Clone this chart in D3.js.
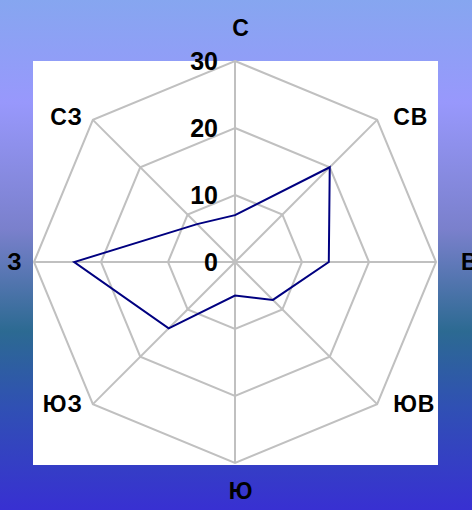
<!DOCTYPE html>
<html>
<head>
<meta charset="utf-8">
<script src="https://cdn.jsdelivr.net/npm/d3@7"></script>
<style>
html,body{margin:0;padding:0;}
body{width:472px;height:510px;overflow:hidden;}
</style>
</head>
<body>
<svg id="chart" width="472" height="510"></svg>
<script>
const categories = ["С", "СВ", "В", "ЮВ", "Ю", "ЮЗ", "З", "СЗ"];
const values = [7, 20, 14, 8, 5, 14, 24, 8];
const ticks = [0, 10, 20, 30];
const maxValue = 30;

const svg = d3.select("#chart");
const W = 472, H = 510;
const cx = 235, cy = 262, R = 201;

const defs = svg.append("defs");
const grad = defs.append("linearGradient").attr("id", "bg").attr("x1", 0).attr("y1", 0).attr("x2", 0).attr("y2", 1);
[[0, "#86a6f0"], [0.2, "#9898fc"], [0.45, "#7a80cc"], [0.65, "#2c6a92"], [0.8, "#3050b4"], [1, "#3830d2"]]
  .forEach(([o, c]) => grad.append("stop").attr("offset", o).attr("stop-color", c));

svg.append("rect").attr("width", W).attr("height", H).attr("fill", "url(#bg)");
svg.append("rect").attr("x", 33).attr("y", 61).attr("width", 405).attr("height", 404).attr("fill", "#ffffff");

const r = d3.scaleLinear().domain([0, maxValue]).range([0, R]);
const angle = d3.scalePoint().domain(categories.concat(["_"])).range([0, 2 * Math.PI]);
const pt = (cat, v) => {
  const a = angle(cat);
  return [cx + r(v) * Math.sin(a), cy - r(v) * Math.cos(a)];
};

const g = svg.append("g");
ticks.filter(t => t > 0).forEach(t => {
  g.append("polygon")
    .attr("points", categories.map(c => pt(c, t).join(",")).join(" "))
    .attr("fill", "none").attr("stroke", "#c0c0c0").attr("stroke-width", 2);
});
categories.forEach(c => {
  const [x, y] = pt(c, maxValue);
  g.append("line").attr("x1", cx).attr("y1", cy).attr("x2", x).attr("y2", y)
    .attr("stroke", "#c0c0c0").attr("stroke-width", 2);
});

const line = d3.line().curve(d3.curveLinearClosed);
g.append("path")
  .attr("d", line(categories.map((c, i) => pt(c, values[i]))))
  .attr("fill", "none").attr("stroke", "#000080").attr("stroke-width", 2);

g.selectAll("text.tick").data(ticks).join("text")
  .attr("class", "tick")
  .attr("x", cx - 17).attr("y", d => cy - r(d))
  .attr("dy", "0.36em")
  .attr("text-anchor", "end")
  .attr("font-family", "Liberation Sans, Arial, sans-serif")
  .attr("font-weight", "bold").attr("font-size", 25).attr("fill", "#000")
  .text(d => d);

// category labels placed relative to outer vertex
function labelPos(c) {
  const [x, y] = pt(c, maxValue);
  const s = Math.round(Math.sin(angle(c)) * 100) / 100;
  const co = Math.round(Math.cos(angle(c)) * 100) / 100;
  if (s === 0) return { x: x + 6, y: co > 0 ? y - 33 : y + 28, anchor: "middle" };
  if (co === 0) return s > 0 ? { x: x + 25, y: y, anchor: "start" } : { x: x - 19, y: y, anchor: "middle" };
  return s > 0 ? { x: x + 16, y: y - (co > 0 ? 3 : 0), anchor: "start" }
               : { x: x - 10, y: y - (co > 0 ? 3 : 0), anchor: "end" };
}
g.selectAll("text.cat").data(categories).join("text")
  .attr("class", "cat")
  .attr("x", d => labelPos(d).x)
  .attr("y", d => labelPos(d).y)
  .attr("dy", "0.36em")
  .attr("text-anchor", d => labelPos(d).anchor)
  .attr("font-family", "Liberation Sans, Arial, sans-serif")
  .attr("font-weight", "bold").attr("font-size", 23).attr("letter-spacing", 1).attr("fill", "#000")
  .text(d => d);
</script>
</body>
</html>
